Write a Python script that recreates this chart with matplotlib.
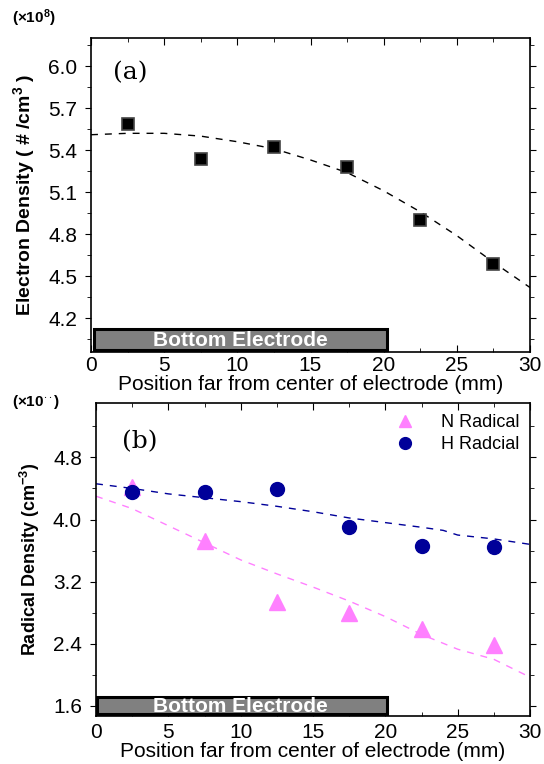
import matplotlib
matplotlib.use("Agg")
import matplotlib.pyplot as plt
from matplotlib.patches import Rectangle
from matplotlib.ticker import MultipleLocator

plt.rcParams['font.family'] = ['Liberation Sans', 'DejaVu Sans']
plt.rcParams['mathtext.fontset'] = 'custom'
plt.rcParams['mathtext.rm'] = 'Liberation Sans'
plt.rcParams['mathtext.bf'] = 'Liberation Sans:bold'
plt.rcParams['mathtext.default'] = 'regular'

# ---- data (a) ----
pos_a = [2.5, 7.5, 12.5, 17.5, 22.5, 27.5]
ne_a = [5.59, 5.34, 5.42, 5.28, 4.90, 4.59]
fit_x_a = [0, 2.5, 5, 7.5, 10, 12.5, 15, 17.5, 20, 22.5, 25, 27.5, 30]
fit_y_a = [5.51, 5.52, 5.52, 5.50, 5.46, 5.41, 5.33, 5.24, 5.11, 4.96, 4.79, 4.60, 4.42]

# ---- data (b) ----
pos_b = [2.5, 7.5, 12.5, 17.5, 22.5, 27.5]
n_rad = [4.42, 3.72, 2.94, 2.80, 2.59, 2.39]
h_rad = [4.35, 4.35, 4.39, 3.90, 3.66, 3.64]
fit_x_h = [0, 2.5, 5, 7.5, 10, 12.5, 15, 17.5, 20, 22.5, 24, 25, 27.5, 30]
fit_y_h = [4.46, 4.40, 4.33, 4.28, 4.23, 4.17, 4.10, 4.02, 3.96, 3.90, 3.86, 3.80, 3.75, 3.68]
fit_x_n = [0, 2.5, 5, 7.5, 10, 12.5, 15, 17.5, 20, 22.5, 25, 27.5, 30]
fit_y_n = [4.30, 4.14, 3.92, 3.70, 3.48, 3.30, 3.13, 2.95, 2.75, 2.52, 2.33, 2.20, 1.97]

xticks = [0, 5, 10, 15, 20, 25, 30]

fig = plt.figure(figsize=(5.44, 7.64), dpi=100)

def style_axes(ax, xpad):
    ax.set_xlim(0, 30)
    ax.set_xticks(xticks)
    ax.xaxis.set_minor_locator(MultipleLocator(2.5))
    ax.tick_params(axis='x', which='both', direction='in', top=True, labelsize=15, pad=xpad)
    ax.tick_params(axis='x', which='major', length=5)
    ax.tick_params(axis='x', which='minor', length=3)
    ax.tick_params(axis='y', which='both', direction='out', right=True, labelsize=15, pad=6)
    ax.tick_params(axis='y', which='major', length=4)
    ax.tick_params(axis='y', which='minor', length=3)
    for s in ax.spines.values():
        s.set_linewidth(1.2)

# ---------- panel (a) ----------
ax1 = fig.add_axes([91/544, 1-352/764, 439/544, 314/764])
ax1.plot(fit_x_a, fit_y_a, ls=(0, (5, 5)), color='black', lw=1)
ax1.plot(pos_a, ne_a, ls='none', marker='s', ms=8, mfc='black', mec='#444444', mew=1.2)
ax1.set_ylim(3.96, 6.2)
ax1.set_yticks([4.2, 4.5, 4.8, 5.1, 5.4, 5.7, 6.0])
ax1.set_yticklabels(['4.2', '4.5', '4.8', '5.1', '5.4', '5.7', '6.0'])
ax1.yaxis.set_minor_locator(MultipleLocator(0.15))
style_axes(ax1, 3)
ax1.add_patch(Rectangle((0.2, 3.975), 20.0, 0.15, facecolor='#808080',
                        edgecolor='black', lw=2.2, zorder=3))
ax1.text(10.2, 4.045, 'Bottom Electrode', color='white', fontsize=15, fontweight='bold',
         ha='center', va='center', zorder=4)
ax1.text(1.5, 5.95, '(a)', family='DejaVu Serif', fontsize=18, ha='left', va='center')
ax1.set_xlabel('Position far from center of electrode (mm)', fontsize=15, labelpad=0)
ax1.set_ylabel('Electron Density ( # /cm$^{3}$ )', fontsize=14, fontweight='bold', labelpad=8)
fig.text(12/544, 1-18/764, '(×10$^{8}$)', fontsize=11, fontweight='bold', ha='left', va='center')

# ---------- panel (b) ----------
ax2 = fig.add_axes([96/544, 1-716/764, 434/544, 313/764])
ax2.plot(fit_x_h, fit_y_h, ls=(0, (5, 5)), color='#000099', lw=1)
ax2.plot(fit_x_n, fit_y_n, ls=(0, (5, 5)), color='#FF80FF', lw=1)
ax2.plot(pos_b, n_rad, ls='none', marker='^', ms=11, color='#FF80FF', label='N Radical')
ax2.plot(pos_b, h_rad, ls='none', marker='o', ms=10, color='#000099', label='H Radcial')
ax2.set_ylim(1.47, 5.5)
ax2.set_yticks([1.6, 2.4, 3.2, 4.0, 4.8])
ax2.set_yticklabels(['1.6', '2.4', '3.2', '4.0', '4.8'])
ax2.yaxis.set_minor_locator(MultipleLocator(0.4))
style_axes(ax2, 5)
ax2.add_patch(Rectangle((0.1, 1.5), 20.0, 0.22, facecolor='#808080',
                        edgecolor='black', lw=2.2, zorder=3))
ax2.text(10.0, 1.595, 'Bottom Electrode', color='white', fontsize=15, fontweight='bold',
         ha='center', va='center', zorder=4)
ax2.text(1.8, 5.0, '(b)', family='DejaVu Serif', fontsize=18, ha='left', va='center')
ax2.set_xlabel('Position far from center of electrode (mm)', fontsize=15, labelpad=0)
ax2.set_ylabel('Radical Density (cm$^{-3}$)', fontsize=13, fontweight='bold', labelpad=8)
ax2.legend(loc='upper right', frameon=False, fontsize=13, handletextpad=1.0,
           borderaxespad=0.2, labelspacing=0.3, markerscale=0.85)
fig.text(12/544, 1-402/764, '(×10$^{\cdot\cdot}$)', fontsize=11, fontweight='bold', ha='left', va='center')

fig.savefig('out.png', dpi=100)
